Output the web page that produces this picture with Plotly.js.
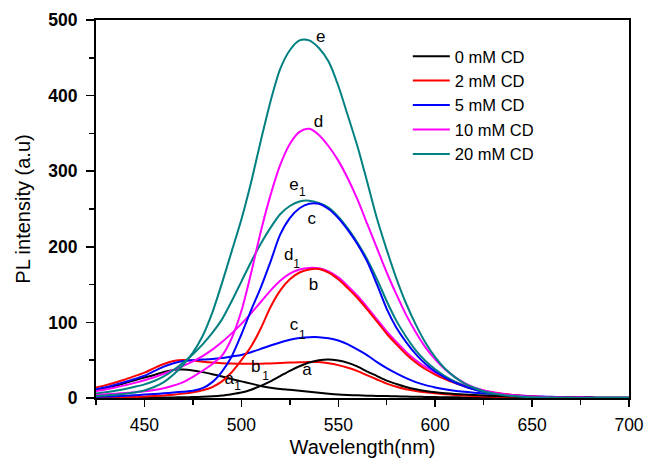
<!DOCTYPE html>
<html>
<head>
<meta charset="utf-8">
<script src="https://cdn.plot.ly/plotly-3.0.1.min.js"></script>
<style>
  html, body { margin: 0; padding: 0; background: #ffffff; }
  #chart { width: 646px; height: 459px; }
</style>
</head>
<body>
<div id="chart"></div>
<script>
// Emission wavelength grid (nm)
const wavelength = [425,430,435,440,445,450,455,460,465,470,475,480,485,490,495,500,505,510,515,520,525,530,535,540,545,550,555,560,565,570,575,580,585,590,595,600,605,610,615,620,625,630,635,640,645,650,655,660,665,670,675,680,685,690,695,700];

// PL intensity spectra (a.u.), main curves a–e and companion curves a1–e1
const curveA  = [0.3,0.3,0.3,0.4,0.4,0.5,0.5,0.6,0.8,1.0,1.2,1.6,2.2,3.2,5.0,7.2,11,16,22,29,36,42,47,50,51,49.5,46.5,41.5,35,29,23,18.5,14.5,11.5,9.2,7.5,6.3,5.4,4.6,3.9,3.3,2.8,2.3,1.9,1.5,1.2,1.0,0.8,0.6,0.5,0.4,0.3,0.3,0.2,0.2,0.2];
const curveA1 = [10.2,13,16.2,19.8,23.5,27,30.5,34.5,37.2,37.6,36.3,34.2,31.5,28.5,25.2,22,19,16,13.6,11.8,10.8,9.6,8.2,6.8,5.6,4.6,4.0,3.5,3.1,2.8,2.5,2.2,1.9,1.6,1.4,1.2,1.0,0.9,0.8,0.7,0.6,0.5,0.5,0.4,0.4,0.4,0.3,0.3,0.3,0.2,0.2,0.2,0.2,0.2,0.2,0.2];
const curveB  = [0.5,0.6,0.8,1.0,1.4,2.0,2.6,3.4,4.4,5.8,7.6,10.2,14.5,22,34,50,68,92,120,142,157,166,170,170.5,166,157,145,132,117,101,85,71,58,47,38,31,25,20,15.5,12,9,6.8,5.2,3.9,2.8,2.0,1.4,0.9,0.6,0.4,0.3,0.2,0.1,0.1,0.1,0.1];
const curveB1 = [13.8,17,20.5,24.5,29,33.5,39.5,45,49,50.2,49.5,48,46.8,46,45.5,45.2,45.2,45.4,45.8,46.3,46.8,47.3,47.7,47.5,46,43.5,40,35.5,30,24.5,19,14.8,11.5,9.2,7.5,6.2,5.0,4.0,3.2,2.6,2.1,1.7,1.3,1.0,0.8,0.6,0.5,0.4,0.3,0.3,0.2,0.2,0.1,0.1,0.1,0.1];
const curveC  = [1.5,1.9,2.4,3.0,3.7,4.5,5.3,6.2,7.2,8.4,9.6,13,21,35,55,84,116,146,180,216,238,251,257,257,250,238,222,203,180,150,118,93,74,58,45,35,27,20.5,15.5,11.5,8.5,6.2,4.5,3.2,2.3,1.6,1.1,0.8,0.5,0.4,0.3,0.2,0.1,0.1,0.1,0.1];
const curveC1 = [11.5,14.2,17.5,21.2,25.2,29.5,35.5,41.5,46,48.8,50,50.8,51.6,53,55,57,60.5,65,69.5,73.5,77,79.3,80.5,80.5,79,76,71,64,56.5,47.5,39.5,32.5,26.2,21,17,14,11.5,9.6,8.2,7.0,6.1,5.3,4.5,3.7,3.0,2.4,1.9,1.5,1.2,0.9,0.7,0.5,0.4,0.3,0.2,0.2];
const curveD  = [4,4.8,5.7,6.6,7.6,8.8,10.5,13,16.5,21,28,36,45,56,79,115,165,220,268,308,336,352,356,348,333,314,290,262,230,198,166,137,110,87,67,51,38,28,20,14,10,7,5,3.5,2.4,1.6,1.1,0.7,0.5,0.3,0.2,0.1,0.1,0.1,0.1,0.1];
const curveD1 = [9,11.2,13.8,16.8,20,23.5,27.5,32,37,42.5,48.5,55.5,64,74,85.5,98,112,127,142,155,164.5,170,172,171.5,167.5,159.5,148,135,120,104,88,74,61,50,41,33.5,27,21.5,16.8,13,10,7.5,5.6,4.1,3.0,2.2,1.5,1.0,0.7,0.5,0.3,0.2,0.1,0.1,0.1,0.1];
const curveE  = [2.7,3.4,4.3,5.5,7.2,10,14.5,21,31,44,60,82,113,152,194,236,285,340,392,435,460,473,473,463,445,413,373,332,285,237,196,158,125,97,73,54,39,28,19.5,13.5,9,6,4,2.6,1.7,1.1,0.7,0.5,0.3,0.2,0.1,0.1,0.1,0.1,0.1,0.1];
const curveE1 = [5.8,7.6,9.6,12,14.8,18,22.5,28.5,37,47,58,71,86,104,128,154,180,204,225,243,254,260,261,258,252,240,224,205,183,157,128,102,81,63,49,38,29,22,16,11.5,8,5.5,3.8,2.6,1.8,1.2,0.8,0.5,0.3,0.2,0.1,0.1,0.1,0.1,0.1,0.1];

// Legend names and colours per CD concentration
const seriesNames  = ["0 mM CD", "2 mM CD", "5 mM CD", "10 mM CD", "20 mM CD"];
const seriesColors = ["#000000", "#ff0000", "#0000ff", "#ff00ff", "#008080"];
const mainCurves      = [curveA, curveB, curveC, curveD, curveE];
const companionCurves = [curveA1, curveB1, curveC1, curveD1, curveE1];

// Curve letters and their centre points (wavelength, intensity)
const labelText = ["e", "d", "c", "b", "a", "e", "d", "c", "b", "a"];
const labelX    = [541.0, 539.8, 536.3, 537.2, 533.8, 527.1, 524.5, 527.1, 507.4, 493.7];
const labelY    = [476.0, 364.5, 236.0, 148.0, 35.5, 280.3, 187.7, 95.0, 39.9, 24.4];
// Subscript "1" marks for the companion curves
const subText = ["1", "1", "1", "1", "1"];
const subX    = [531.4, 528.5, 531.4, 512.5, 498.0];
const subY    = [270.6, 175.7, 81.7, 27.8, 14.6];

const FONT = "'Liberation Sans', Arial, Helvetica, sans-serif";

const traces = [];
for (let i = 0; i < mainCurves.length; i++) {
  traces.push({
    x: wavelength, y: companionCurves[i], type: "scatter", mode: "lines",
    line: { color: seriesColors[i], width: 2, shape: "spline", smoothing: 0.8 },
    showlegend: false, hoverinfo: "skip"
  });
}
for (let i = 0; i < mainCurves.length; i++) {
  traces.push({
    x: wavelength, y: mainCurves[i], type: "scatter", mode: "lines",
    name: seriesNames[i],
    line: { color: seriesColors[i], width: 2, shape: "spline", smoothing: 0.8 }
  });
}
// Curve letter labels and their subscripts
traces.push({
  x: labelX, y: labelY, type: "scatter", mode: "text",
  text: labelText, textposition: "middle center",
  textfont: { family: FONT, size: 17, color: "#000000" },
  showlegend: false, hoverinfo: "skip", cliponaxis: false
});
traces.push({
  x: subX, y: subY, type: "scatter", mode: "text",
  text: subText, textposition: "middle center",
  textfont: { family: FONT, size: 12, color: "#000000" },
  showlegend: false, hoverinfo: "skip", cliponaxis: false
});

const layout = {
  width: 646, height: 459,
  margin: { l: 96, r: 17, t: 20, b: 61, pad: 0 },
  paper_bgcolor: "#ffffff", plot_bgcolor: "#ffffff",
  font: { family: FONT, color: "#000000" },
  showlegend: true,
  legend: {
    x: 0.585, y: 0.95, xanchor: "left", yanchor: "top",
    bgcolor: "rgba(0,0,0,0)", borderwidth: 0,
    font: { family: FONT, size: 16.5, color: "#000000" },
    traceorder: "normal", itemwidth: 37
  },
  xaxis: {
    range: [425, 700], tickmode: "linear", tick0: 450, dtick: 50,
    ticks: "outside", ticklen: 7, tickwidth: 1.5, tickcolor: "#000000",
    minor: { dtick: 25, ticks: "outside", ticklen: 5, tickwidth: 1.5, tickcolor: "#000000" },
    showline: true, linewidth: 2, linecolor: "#000000", mirror: true,
    showgrid: false, zeroline: false,
    tickfont: { family: FONT, size: 17.5, color: "#000000" },
    ticklabelstandoff: 3,
    title: { text: "Wavelength(nm)", font: { family: FONT, size: 20, color: "#000000" }, standoff: 6 }
  },
  yaxis: {
    range: [0, 500], tickmode: "linear", tick0: 0, dtick: 100,
    ticks: "outside", ticklen: 8, tickwidth: 1.5, tickcolor: "#000000",
    minor: { dtick: 50, ticks: "outside", ticklen: 5, tickwidth: 1.5, tickcolor: "#000000" },
    showline: true, linewidth: 2, linecolor: "#000000", mirror: true,
    showgrid: false, zeroline: false,
    tickfont: { family: FONT, size: 17.5, color: "#000000", weight: "bold" },
    ticklabelstandoff: 5,
    title: { text: "PL intensity (a.u)", font: { family: FONT, size: 20, color: "#000000" }, standoff: 12 }
  }
};

Plotly.newPlot("chart", traces, layout, { staticPlot: true, displayModeBar: false });
</script>
</body>
</html>
